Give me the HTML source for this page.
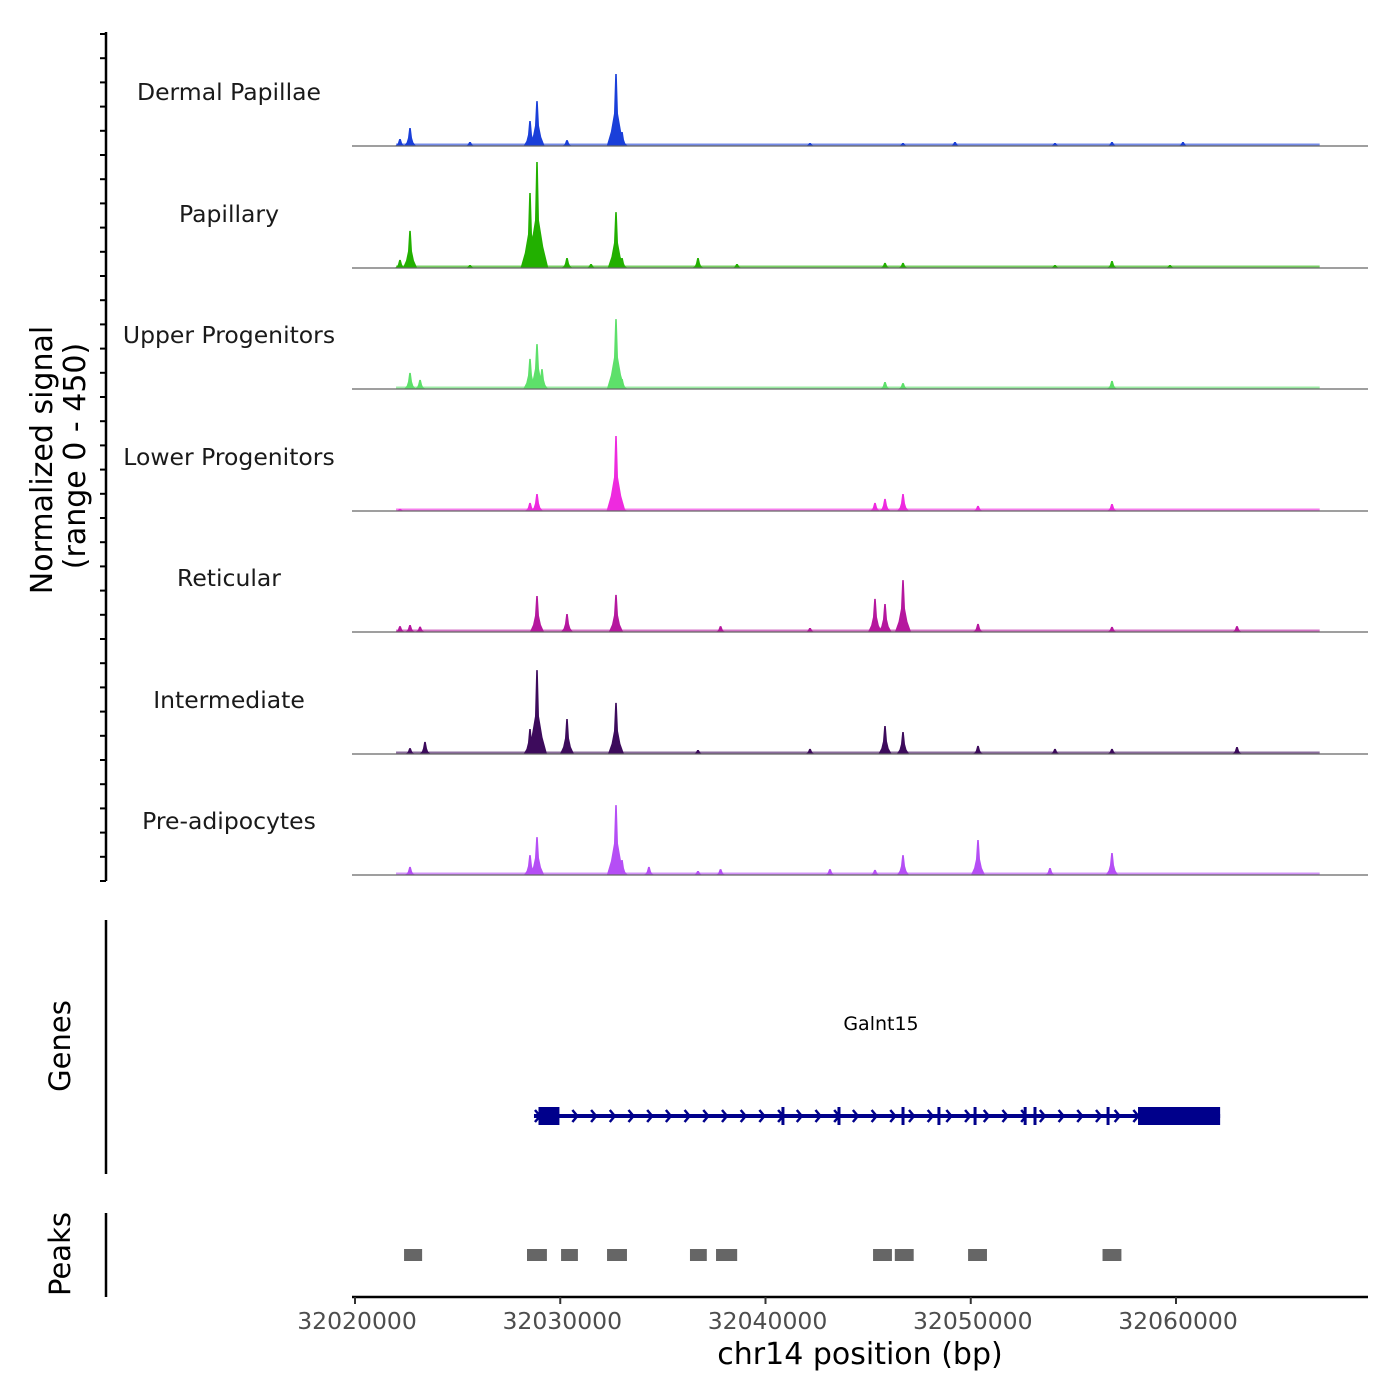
<!DOCTYPE html>
<html><head><meta charset="utf-8"><style>
html,body{margin:0;padding:0;background:#fff}
svg{display:block;font-family:"DejaVu Sans","Liberation Sans",sans-serif}
</style></head><body>
<svg id="chart" width="1400" height="1400" viewBox="0 0 1400 1400" xmlns="http://www.w3.org/2000/svg">
<rect width="1400" height="1400" fill="#fff"/>
<text transform="translate(52,460) rotate(-90)" text-anchor="middle" font-size="30" fill="#000">Normalized signal</text>
<text transform="translate(85,456) rotate(-90)" text-anchor="middle" font-size="30" fill="#000">(range 0 - 450)</text>
<text transform="translate(70,1046) rotate(-90)" text-anchor="middle" font-size="29" fill="#000">Genes</text>
<text transform="translate(70,1254) rotate(-90)" text-anchor="middle" font-size="29" fill="#000">Peaks</text>
<line x1="106" y1="32" x2="106" y2="881" stroke="#000" stroke-width="2.5"/>
<line x1="106" y1="920" x2="106" y2="1174" stroke="#000" stroke-width="2.5"/>
<line x1="106" y1="1213" x2="106" y2="1297" stroke="#000" stroke-width="2.5"/>
<line x1="352" y1="1297" x2="1368" y2="1297" stroke="#000" stroke-width="2.5"/>
<text x="881" y="1030" text-anchor="middle" font-size="19" fill="#000">Galnt15</text>
<text x="860" y="1364" text-anchor="middle" font-size="30" fill="#000">chr14 position (bp)</text>
<g id="g"></g>
</svg>
<script>
const trackNames = ["Dermal Papillae","Papillary","Upper Progenitors","Lower Progenitors","Reticular","Intermediate","Pre-adipocytes"];
const trackColors = ["#1a3fd9","#22b000","#5de06a","#ee2adf","#b5179e","#3d0b5c","#b54ef5"];
const xTicks = [32020000,32030000,32040000,32050000,32060000];
// peak positions (bp) and heights (normalized signal) per track
const dpPos = [32022192,32022680,32025603,32028526,32028867,32030329,32032716,32033008,32042168,32046699,32049232,32054104,32056881,32060340];
const dpVal = [26,67,15,93,167,22,268,52,11,11,15,11,15,15];
const paPos = [32022192,32022680,32025603,32028526,32028867,32030329,32031500,32032716,32033008,32036711,32038611,32045822,32046699,32054104,32056881,32059707];
const paVal = [30,138,11,279,394,37,15,208,37,37,15,19,19,11,26,11];
const upPos = [32022680,32023170,32028526,32028867,32029110,32032716,32033008,32045822,32046699,32056881];
const upVal = [60,34,112,167,74,260,37,26,22,30];
const loPos = [32022192,32028526,32028867,32032716,32033008,32045334,32045822,32046699,32050353,32056881];
const loVal = [8,30,63,279,30,30,45,63,19,26];
const rePos = [32022192,32022680,32023170,32028867,32030329,32032716,32037810,32042168,32045334,32045822,32046699,32050353,32056881,32062971];
const reVal = [22,26,20,134,67,138,22,15,123,104,193,30,19,22];
const inPos = [32022680,32023410,32028526,32028867,32030329,32032716,32036711,32042168,32045822,32046699,32050353,32054104,32056881,32062971];
const inVal = [22,45,93,312,130,190,15,19,104,82,30,19,19,26];
const prPos = [32022680,32028526,32028867,32032716,32033008,32034320,32036711,32037810,32043140,32045334,32046699,32050353,32053860,32056881];
const prVal = [30,74,141,260,56,30,15,22,22,19,74,130,26,82];
const allPos = [dpPos,paPos,upPos,loPos,rePos,inPos,prPos];
const allVal = [dpVal,paVal,upVal,loVal,reVal,inVal,prVal];
// peaks track (start,end bp)
const peakStart = [32022390,32028380,32030040,32032280,32036320,32037590,32045240,32046300,32049870,32056420];
const peakEnd   = [32023270,32029350,32030860,32033250,32037140,32038620,32046160,32047220,32050790,32057340];
// gene model
const geneStart = 32028720, geneEnd = 32062150;
const exonStart = [32028940,32058150];
const exonEnd   = [32029960,32062150];
const exonTicks = [32040850,32043580,32046700,32048450,32050210,32052650,32053130,32056690];

const NS="http://www.w3.org/2000/svg";
const g=document.getElementById('g');
const X=bp=>355+(bp-32020000)*0.020525;
const H=v=>v/450*121;
const baselines=[146,268,389,511,632,754,875];
function mk(t,a){const e=document.createElementNS(NS,t);for(const k in a)e.setAttribute(k,a[k]);g.appendChild(e);return e;}

for(let i=0;i<36;i++){
  const y=34+i*24.2;
  const t=mk('line',{x1:100,x2:106,y1:y,y2:y,stroke:'#000','stroke-width':2});
  
  
}

trackNames.forEach((name,ti)=>{
  const b=baselines[ti], col=trackColors[ti];
  const lab=mk('text',{x:229,y:b-46,'text-anchor':'middle','font-size':23.5,fill:'#1a1a1a'});
  lab.textContent=name;
  
  
  const floor=mk('rect',{x:X(32022000),y:b-2.5,width:X(32067000)-X(32022000),height:2.5,fill:col,opacity:0.6});
  
  
  allPos[ti].forEach((p,i)=>{
    const x=X(p), h=H(allVal[ti][i]);
    const w=5+h*0.06;
    const d=`M${x-w},${b} L${x-w*0.55},${b-h*0.2} L${x-2},${b-h*0.45} L${x-0.8},${b-h} L${x+0.8},${b-h} L${x+2},${b-h*0.45} L${x+w*0.55},${b-h*0.2} L${x+w},${b} Z`;
    const pk=mk('path',{d,fill:col});
    
    
  });
  const bl=mk('line',{x1:352,x2:1368,y1:b,y2:b,stroke:'#666','stroke-width':1.2});
  
  
});

const gl=mk('line',{x1:X(geneStart),x2:X(geneEnd),y1:1116,y2:1116,stroke:'#00008b','stroke-width':4});


for(let x=X(geneStart)+4;x<X(exonStart[1]);x+=18.7){
  const c=mk('path',{d:`M${x-3},${1110} L${x+2},${1116} L${x-3},${1122}`,fill:'none',stroke:'#00008b','stroke-width':2.5});
  
  
}
exonTicks.forEach(p=>{
  const t=mk('rect',{x:X(p)-1.5,y:1107,width:3,height:18,fill:'#00008b'});
  
  
});
exonStart.forEach((s,i)=>{
  const r=mk('rect',{x:X(s),y:1107,width:X(exonEnd[i])-X(s),height:18,fill:'#00008b'});
  
  
});

peakStart.forEach((s,i)=>{
  const r=mk('rect',{x:X(s),y:1249,width:X(peakEnd[i])-X(s),height:12,fill:'#666'});
  
  
});

xTicks.forEach(v=>{
  const x=X(v);
  const t=mk('line',{x1:x,x2:x,y1:1297,y2:1304,stroke:'#333','stroke-width':2});
  
  
  const l=mk('text',{x:x+2,y:1329,'text-anchor':'middle','font-size':23.5,fill:'#4d4d4d'});
  l.textContent=v;
  
  
});
</script>
</body></html>
